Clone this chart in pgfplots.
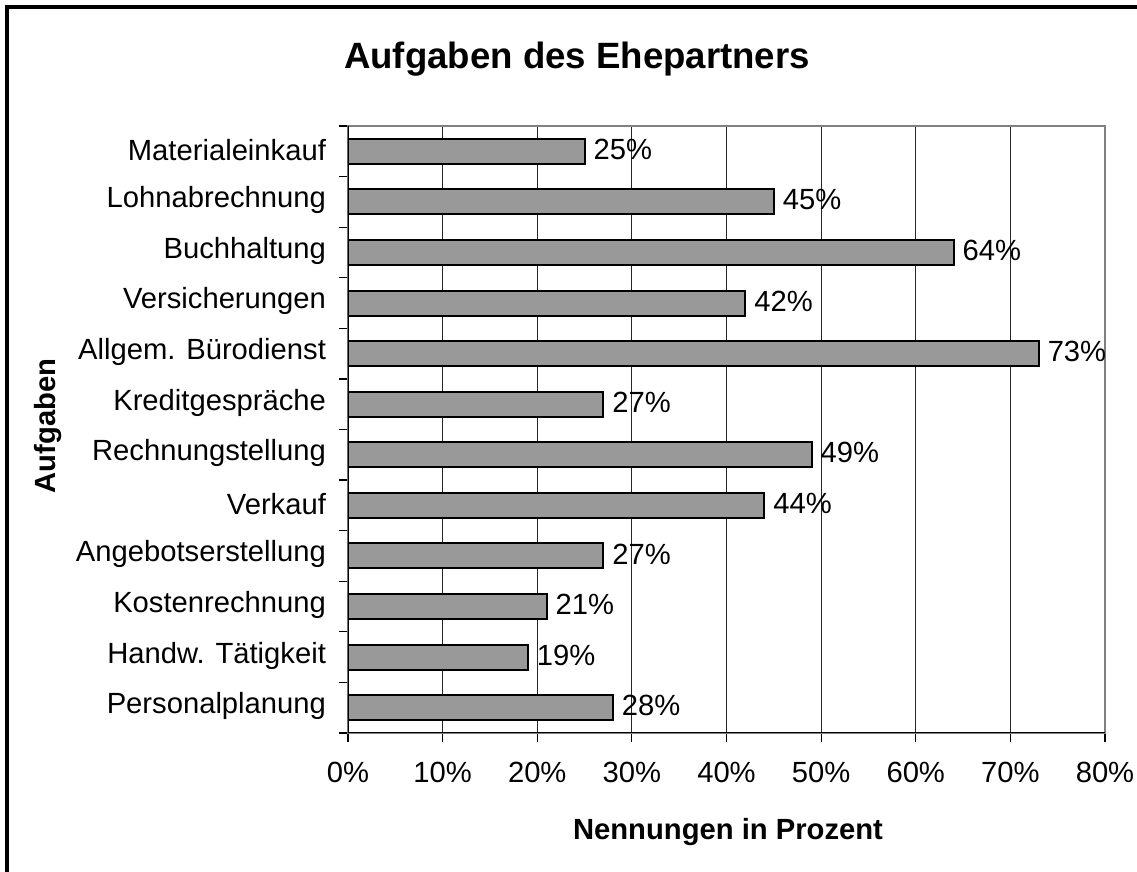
\documentclass[border=0pt]{standalone}
\usepackage{fontspec}
\setmainfont{Liberation Sans}
\usepackage{pgfplots}
\pgfplotsset{compat=1.18}
\begin{document}
\begin{tikzpicture}
\useasboundingbox (0,0) rectangle (568.5pt,436pt);
\draw[line width=1.6pt] (3.5pt,-2pt) -- (3.5pt,432.5pt) -- (572pt,432.5pt);
\node[font=\bfseries\fontsize{18.3}{22}\selectfont, inner sep=0pt] at (288.5pt,406.5pt) {Aufgaben des Ehepartners};
\node[font=\bfseries\fontsize{14.6}{17}\selectfont, inner sep=0pt] at (364pt,20pt) {Nennungen in Prozent};
\node[font=\bfseries\fontsize{14.6}{17}\selectfont, inner sep=0pt, rotate=90] at (24.25pt,223pt) {Aufgaben};
\begin{axis}[
  at={(174pt,69.5pt)}, anchor=south west,
  scale only axis, width=378.5pt, height=303.5pt,
  /pgf/number format/assume math mode=true,
  xbar, bar width=12.5pt, bar shift=0pt,
  xmin=0, xmax=80, ymin=-0.5, ymax=11.5, y dir=reverse,
  xtick={0,10,...,80},
  xticklabels={0\%,10\%,20\%,30\%,40\%,50\%,60\%,70\%,80\%},
  xticklabel style={yshift=-6.5pt},
  ytick={-0.5,0.5,...,11.5},
  yticklabels={},
  extra y ticks={0,1,2,3,4,5,6,7,8,9,10,11},
  extra y tick labels={Materialeinkauf,Lohnabrechnung,Buchhaltung,Versicherungen,Allgem. Bürodienst,Kreditgespräche,Rechnungstellung,Verkauf,Angebotserstellung,Kostenrechnung,Handw. Tätigkeit,Personalplanung},
  extra y tick style={major tick length=0pt, yticklabel style={xshift=-7.5pt, yshift=0.8pt}},
  xmajorgrids, major grid style={black!85, line width=0.5pt},
  axis line style={draw=black!50, line width=1pt},
  tick align=outside, xtick pos=lower, ytick pos=left,
  major tick length=4.5pt,
  tick style={black, line width=0.6pt},
  ticklabel style={font=\fontsize{14.6}{17}\selectfont},
  point meta=x,
  nodes near coords={\pgfmathprintnumber{\pgfplotspointmeta}\%},
  nodes near coords align=horizontal,
  every node near coord/.append style={font=\fontsize{14.6}{17}\selectfont, inner sep=0pt, xshift=4pt, yshift=1pt, black},
]
\addplot[fill=black!40, draw=black, line width=1pt] coordinates {
(25,0) (45,1) (64,2) (42,3) (73,4) (27,5) (49,6) (44,7) (27,8) (21,9) (19,10) (28,11)};
\draw[black, line width=1pt] (axis description cs:0,1) -- (axis description cs:0,0) -- (axis description cs:1,0);
\end{axis}
\end{tikzpicture}
\end{document}
